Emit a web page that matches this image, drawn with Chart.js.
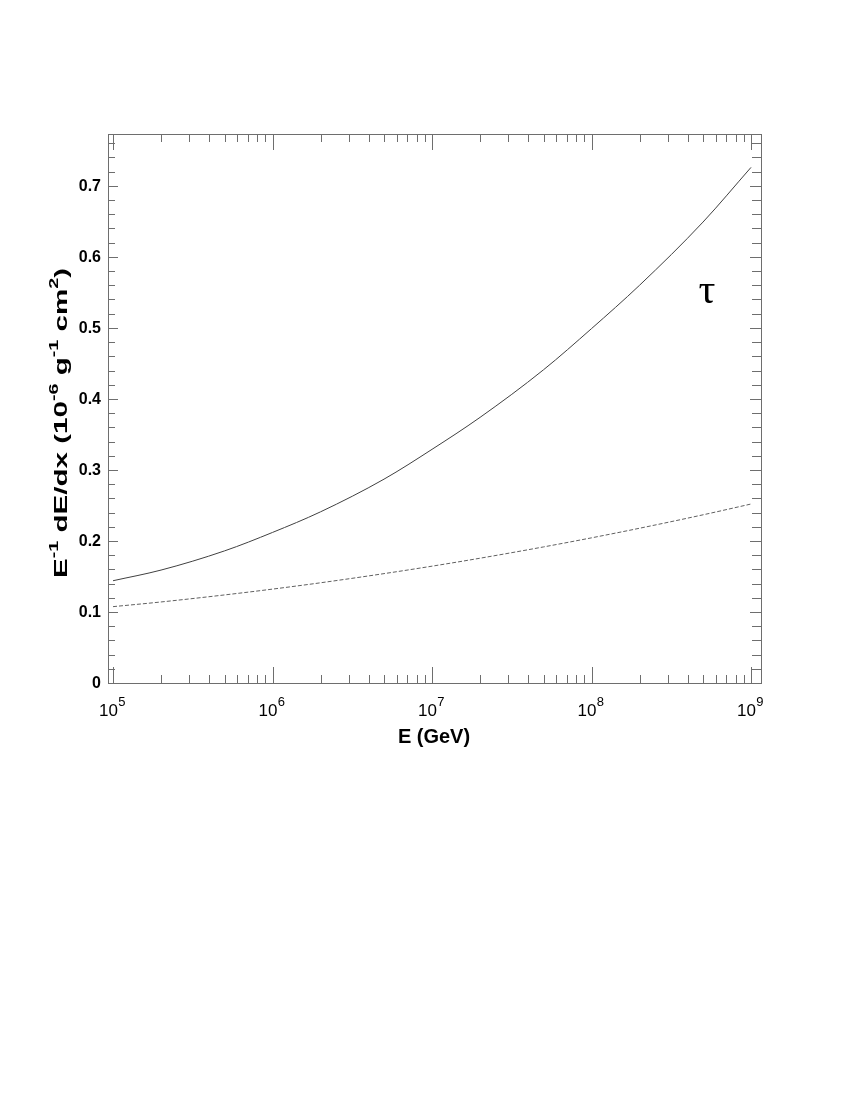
<!DOCTYPE html>
<html>
<head>
<meta charset="utf-8">
<script src="https://cdn.jsdelivr.net/npm/chart.js@4"></script>
<style>
  body { margin: 0; background: #fff; }
  canvas { display: block; }
</style>
</head>
<body>
<canvas id="chart" width="850" height="1100"></canvas>
<script>
// energy grid (GeV) and the two curves
const energies = [1e5, 2e5, 5e5, 1e6, 2e6, 5e6, 1e7, 2e7, 5e7, 1e8, 2e8, 5e8, 1e9];
const totalLoss = [0.144, 0.159, 0.186, 0.212, 0.241, 0.287, 0.329, 0.374, 0.441, 0.499, 0.560, 0.649, 0.726];
const dashedLoss = [0.1075, 0.1141, 0.124, 0.1322, 0.1411, 0.154, 0.1645, 0.1757, 0.1916, 0.2044, 0.2179, 0.2368, 0.252];

const decades = [5, 6, 7, 8, 9];
const yLabels = ["0", "0.1", "0.2", "0.3", "0.4", "0.5", "0.6", "0.7"];
const yTitle = [["E", 0], ["-1", 1], [" dE/dx (10", 0], ["-6", 1], [" g", 0], ["-1", 1], [" cm", 0], ["2", 1], [")", 0]];
const xTitle = "E (GeV)";
const curveLabel = "τ";

function pts(ys) {
    return energies.map((e, i) => ({ x: e, y: ys[i] }));
}

const axisPlugin = {
    id: "axisPlugin",
    afterDraw(chart) {
        const ctx = chart.ctx;
        const a = chart.chartArea;
        const xs = chart.scales.x;
        const ys = chart.scales.y;

        ctx.save();
        ctx.strokeStyle = "#6e6e6e";
        ctx.lineWidth = 1;
        ctx.strokeRect(Math.round(a.left) + 0.5, Math.round(a.top) + 0.5,
            Math.round(a.right - a.left), Math.round(a.bottom - a.top));

        // x ticks (bottom and top, pointing inward)
        ctx.beginPath();
        for (let d = 5; d <= 9; d++) {
            for (let m = 1; m <= 9; m++) {
                let v = m * Math.pow(10, d);
                if (v > xs.max) break;
                let px = Math.round(xs.getPixelForValue(v)) + 0.5;
                let len = m == 1 ? 16 : 8;
                ctx.moveTo(px, a.bottom);
                ctx.lineTo(px, a.bottom - len);
                ctx.moveTo(px, a.top);
                ctx.lineTo(px, a.top + len);
            }
        }
        // y ticks (left and right)
        for (let i = 0; i * 0.02 <= ys.max; i++) {
            let py = Math.round(ys.getPixelForValue(i * 0.02)) + 0.5;
            let major = i % 5 == 0;
            ctx.moveTo(a.left, py);
            ctx.lineTo(a.left + (major ? 10 : 7), py);
            ctx.moveTo(a.right, py);
            ctx.lineTo(a.right - (major ? 11 : 9), py);
        }
        ctx.stroke();

        ctx.fillStyle = "#000";
        // y tick labels
        ctx.font = "bold 16px 'Liberation Sans', Arial, sans-serif";
        ctx.textAlign = "right";
        ctx.textBaseline = "middle";
        yLabels.forEach((t, i) => {
            ctx.fillText(t, a.left - 7, ys.getPixelForValue(i * 0.1) + 1);
        });

        // x tick labels 10^n
        ctx.textAlign = "left";
        ctx.textBaseline = "alphabetic";
        decades.forEach(d => {
            let px = xs.getPixelForValue(Math.pow(10, d));
            ctx.font = "17px 'Liberation Sans', Arial, sans-serif";
            let w1 = ctx.measureText("10").width;
            ctx.font = "13px 'Liberation Sans', Arial, sans-serif";
            let w2 = ctx.measureText(String(d)).width;
            let x0 = px - (w1 + w2) / 2 - 1;
            ctx.font = "17px 'Liberation Sans', Arial, sans-serif";
            ctx.fillText("10", x0, a.bottom + 33);
            ctx.font = "13px 'Liberation Sans', Arial, sans-serif";
            ctx.fillText(String(d), x0 + w1 + 0.5, a.bottom + 23);
        });

        // x title
        ctx.font = "bold 20px 'Liberation Sans', Arial, sans-serif";
        ctx.textAlign = "center";
        ctx.fillText(xTitle, 434, a.bottom + 60);

        // y title, rotated, with superscripts
        ctx.save();
        ctx.translate(67, 423);
        ctx.rotate(-Math.PI / 2);
        let big = "bold 18px 'Liberation Sans', Arial, sans-serif";
        let small = "bold 12px 'Liberation Sans', Arial, sans-serif";
        let total = 0;
        yTitle.forEach(r => {
            ctx.font = r[1] ? small : big;
            total += ctx.measureText(r[0]).width;
        });
        let sx = 310 / total;
        ctx.scale(sx, 1);
        ctx.textAlign = "left";
        let x = -total / 2;
        yTitle.forEach(r => {
            ctx.font = r[1] ? small : big;
            ctx.fillText(r[0], x, r[1] ? -9 : 0);
            x += ctx.measureText(r[0]).width;
        });
        ctx.restore();

        // curve label
        ctx.font = "42px 'Liberation Serif', 'DejaVu Serif', serif";
        ctx.textAlign = "center";
        ctx.fillText(curveLabel, 707, 303);

        ctx.restore();
    }
};

new Chart(document.getElementById("chart"), {
    type: "line",
    data: {
        datasets: [
            {
                label: "total",
                data: pts(totalLoss),
                borderColor: "#404040",
                borderWidth: 1,
                pointRadius: 0,
                cubicInterpolationMode: "monotone"
            },
            {
                label: "dashed",
                data: pts(dashedLoss),
                borderColor: "#606060",
                borderWidth: 1,
                borderDash: [4, 2],
                pointRadius: 0,
                cubicInterpolationMode: "monotone"
            }
        ]
    },
    options: {
        responsive: false,
        animation: false,
        layout: { padding: { left: 108, top: 134, right: 89, bottom: 417 } },
        plugins: { legend: { display: false }, tooltip: { enabled: false } },
        scales: {
            x: { type: "logarithmic", min: 93000, max: 1.155e9, display: false },
            y: { type: "linear", min: 0, max: 0.773, display: false }
        }
    },
    plugins: [axisPlugin]
});
</script>
</body>
</html>
